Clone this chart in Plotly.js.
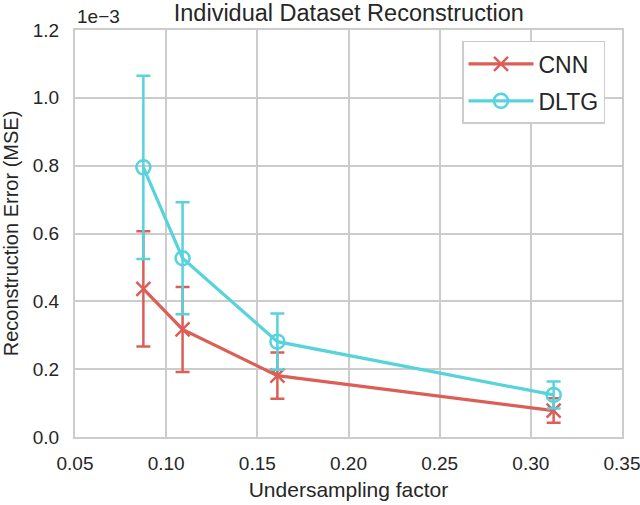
<!DOCTYPE html>
<html>
<head>
<meta charset="utf-8">
<script src="https://cdn.plot.ly/plotly-3.0.1.min.js"></script>
<style>html,body{margin:0;padding:0;background:#fff;}#chart{width:640px;height:505px;}</style>
</head>
<body>
<div id="chart"></div>
<script>
// Values in units of 1e-3 (as labelled on the axis)
const undersampling = [0.0875, 0.109, 0.161, 0.3125];
const cnnMse = [0.437, 0.317, 0.181, 0.078];
const cnnErr = [0.170, 0.125, 0.068, 0.036];
const dltgMse = [0.795, 0.527, 0.281, 0.124];
const dltgErr = [0.270, 0.165, 0.083, 0.040];
const seriesNames = ['CNN', 'DLTG'];
const xTicks = [0.05, 0.10, 0.15, 0.20, 0.25, 0.30, 0.35];
const yTicks = [0.0, 0.2, 0.4, 0.6, 0.8, 1.0, 1.2];

const red = '#db5f57';
const cyan = '#57d3db';
const grid = '#cccccc';
const txt = '#262626';
const font = 'Liberation Sans, Arial, sans-serif';

const traces = [
  {
    x: undersampling, y: cnnMse, name: seriesNames[0], type: 'scatter', mode: 'lines+markers',
    legendgroup: 'a',
    line: {color: red, width: 3.2},
    marker: {symbol: 'x-thin-open', size: 14, color: red, line: {color: red, width: 2.5}},
    error_y: {type: 'data', array: cnnErr, visible: true, color: red, thickness: 2.5, width: 7}
  },
  {
    x: undersampling, y: dltgMse, name: seriesNames[1], type: 'scatter', mode: 'lines+markers',
    legendgroup: 'b',
    line: {color: cyan, width: 3.2},
    marker: {symbol: 'circle-open', size: 14, color: cyan, line: {color: cyan, width: 2.5}},
    error_y: {type: 'data', array: dltgErr, visible: true, color: cyan, thickness: 2.5, width: 7}
  }
];

const layout = {
  width: 640, height: 505,
  margin: {l: 75, r: 18, t: 30, b: 68},
  paper_bgcolor: '#fff', plot_bgcolor: '#fff',
  font: {family: font, color: txt, size: 19},
  title: {text: 'Individual Dataset Reconstruction', font: {size: 23.5, color: txt}, x: 0.545, xanchor: 'center', y: 0.975, yanchor: 'middle'},
  xaxis: {
    range: [0.05, 0.35], tickvals: xTicks, ticktext: xTicks.map(v => v.toFixed(2)),
    showgrid: true, gridcolor: grid, gridwidth: 2, zeroline: false,
    showline: true, mirror: true, linecolor: grid, linewidth: 2,
    ticks: 'outside', ticklen: 8, tickcolor: 'rgba(0,0,0,0)',
    ticklabeloverflow: 'allow',
    tickfont: {size: 19, color: txt},
    title: {text: 'Undersampling factor', font: {size: 21, color: txt}, standoff: 10},
    automargin: false
  },
  yaxis: {
    range: [0, 1.2], tickvals: yTicks, ticktext: yTicks.map(v => v.toFixed(1)),
    showgrid: true, gridcolor: grid, gridwidth: 2, zeroline: false,
    showline: true, mirror: true, linecolor: grid, linewidth: 2,
    ticks: 'outside', ticklen: 10, tickcolor: 'rgba(0,0,0,0)',
    tickfont: {size: 19, color: txt},
    title: {text: 'Reconstruction Error (MSE)', font: {size: 20, color: txt}, standoff: 10},
    automargin: false
  },
  legend: {
    x: 0.7075, y: 0.973, xanchor: 'left', yanchor: 'top',
    bgcolor: '#fff', bordercolor: grid, borderwidth: 1.5,
    itemwidth: 65, tracegroupgap: 4,
    font: {size: 23, color: txt}
  },
  annotations: [
    {text: '1e\u22123', xref: 'paper', yref: 'paper', x: 0, y: 1, xanchor: 'left', yanchor: 'bottom', yshift: 1, showarrow: false, font: {size: 19, color: txt}}
  ]
};

Plotly.newPlot('chart', traces, layout, {displayModeBar: false, staticPlot: true});
</script>
</body>
</html>
